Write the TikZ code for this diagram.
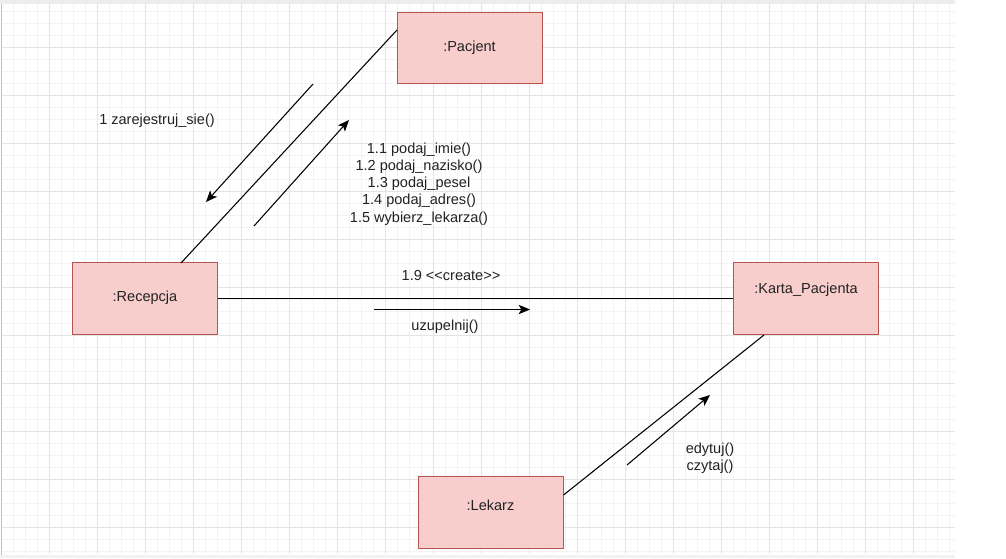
\documentclass[tikz,border=0pt]{standalone}
\usepackage{fontspec}
\setmainfont{Liberation Sans}
\usetikzlibrary{arrows.meta}
\definecolor{bfill}{HTML}{F8CECC}
\definecolor{bline}{HTML}{B85450}
\definecolor{majgrid}{HTML}{E4E4E4}
\definecolor{mingrid}{HTML}{F3F3F3}
\definecolor{txt}{HTML}{222222}
\tikzset{
  obj/.style={draw=bline, fill=bfill, line width=0.75pt, minimum width=108.75pt, minimum height=53.5pt, inner sep=0pt},
  lbl/.style={font=\fontsize{10.9}{12.9}\selectfont, text=txt, align=center, inner sep=0pt},
  assoc/.style={line width=0.8pt, black},
  msg/.style={line width=0.8pt, black, -{Stealth[length=8.5pt, width=7pt, inset=2pt]}},
  mingridline/.style={mingrid, line width=0.6pt},
  majgridline/.style={majgrid, line width=0.75pt}
}
\begin{document}
\begin{tikzpicture}[x=0.75pt, y=-0.75pt]
\useasboundingbox (0,0) rectangle (1006,558);
\fill[white] (0,0) rectangle (1006,558);
% top bar
\fill[black!7] (0,0) rectangle (955,4);
% grid
\foreach \i in {0,...,79} {\draw[mingridline] ({1+12*\i},4) -- ({1+12*\i},554);}
\foreach \j in {1,...,46} {\draw[mingridline] (1,{-0.5+12*\j}) -- (955,{-0.5+12*\j});}
\foreach \i in {0,...,19} {\draw[majgridline] ({1+48*\i},4) -- ({1+48*\i},554);}
\foreach \j in {1,...,11} {\draw[majgridline] (1,{-0.5+48*\j}) -- (955,{-0.5+48*\j});}
\draw[black!25, line width=0.8pt] (1.5,4) -- (1.5,556);
\fill[black!5] (0,555) rectangle (955,558);

% objects
\node[obj] (pac) at (469.5,48) {};
\node[obj] (rec) at (145,298.5) {};
\node[obj] (kar) at (806,298.5) {};
\node[obj] (lek) at (490.5,512.5) {};
\node[lbl] (tpac) at (469.5,48) {:Pacjent};
\node[lbl] (trec) at (145,298) {:Recepcja};
\node[lbl] (tkar) at (806,290) {:Karta\_Pacjenta};
\node[lbl] (tlek) at (490.5,505) {:Lekarz};

% associations
\coordinate (recTop) at (181,263);
\coordinate (pacLeft) at (397,30);
\draw[assoc] (recTop) -- (pacLeft);
\draw[assoc] (rec.east) -- (kar.west);
\coordinate (lekRight) at (563.5,495);
\coordinate (karBot) at (764,335);
\draw[assoc] (lekRight) -- (karBot);

% messages
\coordinate (m1s) at (313,84);
\coordinate (m1e) at (206,202);
\draw[msg] (m1s) -- (m1e);
\coordinate (m2s) at (254,226);
\coordinate (m2e) at (349,120);
\draw[msg] (m2s) -- (m2e);
\coordinate (m3s) at (374,309.5);
\coordinate (m3e) at (530,309.5);
\draw[msg] (m3s) -- (m3e);
\coordinate (m4s) at (627,465);
\coordinate (m4e) at (710,395);
\draw[msg] (m4s) -- (m4e);

% labels
\node[lbl] (l1) at (157,120.5) {1 zarejestruj\_sie()};
\node[lbl] (l2) at (419,184) {1.1 podaj\_imie()\\1.2 podaj\_nazisko()\\1.3 podaj\_pesel\\1.4 podaj\_adres()\\1.5 wybierz\_lekarza()};
\node[lbl] (l3) at (451,275.5) {1.9 <{}<create>{}>};
\node[lbl] (l4) at (445,327) {uzupelnij()};
\node[lbl] (l5) at (710,458) {edytuj()\\czytaj()};
\end{tikzpicture}
\end{document}
